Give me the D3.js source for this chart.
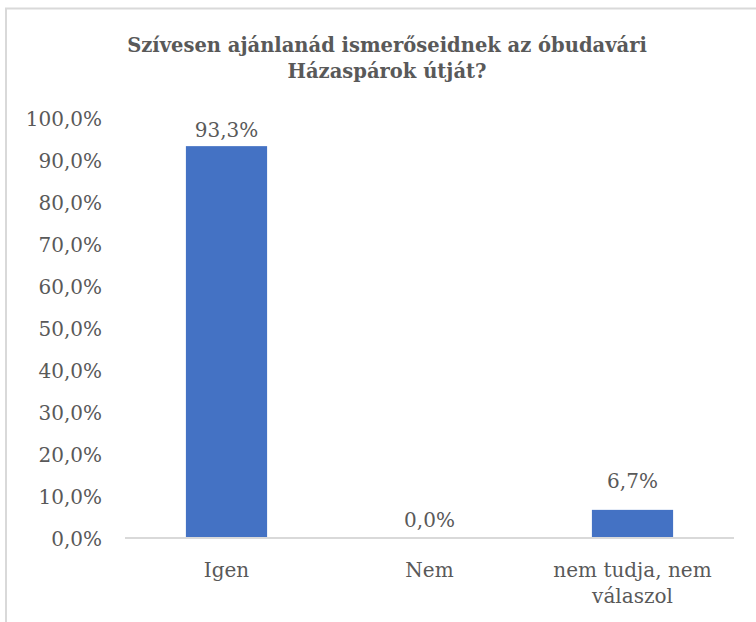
<!DOCTYPE html>
<html>
<head>
<meta charset="utf-8">
<script src="https://cdn.jsdelivr.net/npm/d3@7"></script>
<style>
  html, body { margin: 0; padding: 0; background: #fff; }
  svg { display: block; }
</style>
</head>
<body>
<div id="chart"></div>
<script>
// chart data
const titleLines = ["Szívesen ajánlanád ismerőseidnek az óbudavári", "Házaspárok útját?"];
const categories = ["Igen", "Nem", "nem tudja, nem válaszol"];
const values = [93.3, 0.0, 6.7];
const yTicks = [0, 10, 20, 30, 40, 50, 60, 70, 80, 90, 100];

const width = 756;
const height = 622;
const font = "'DejaVu Serif', 'Liberation Serif', serif";
const textColor = "#595959";
const fontSize = "20px";

const svg = d3.select("#chart")
  .append("svg")
  .attr("width", width)
  .attr("height", height);

// chart area border (runs off the right and bottom edge)
svg.append("rect")
  .attr("x", 6)
  .attr("y", 8.5)
  .attr("width", width + 20)
  .attr("height", height + 20)
  .attr("fill", "none")
  .attr("stroke", "#d9d9d9")
  .attr("stroke-width", 2);

// title
svg.append("text")
  .attr("x", 387)
  .attr("y", 52)
  .attr("text-anchor", "middle")
  .style("font-family", font)
  .style("font-size", "19.5px")
  .style("font-weight", "bold")
  .style("fill", textColor)
  .selectAll("tspan")
  .data(titleLines)
  .enter()
  .append("tspan")
  .attr("x", 387)
  .attr("dy", (d, i) => i === 0 ? 0 : 26)
  .text(d => d);

const x = d3.scaleBand()
  .domain(categories)
  .range([125, 734]);

const y = d3.scaleLinear()
  .domain([0, 100])
  .range([538, 118]);

const fmt = v => d3.format(".1f")(v).replace(".", ",") + "%";

// y axis labels (no line, no ticks)
const yAxis = svg.append("g")
  .attr("transform", "translate(102,0)")
  .call(d3.axisLeft(y).tickValues(yTicks).tickSize(0).tickPadding(0).tickFormat(fmt));
yAxis.select(".domain").remove();
yAxis.selectAll("text")
  .style("font-family", font)
  .style("font-size", fontSize)
  .style("fill", textColor)
  .attr("dy", "0.35em");

// bars
const barW = x.bandwidth() * 0.4;
svg.selectAll("rect.bar")
  .data(values)
  .enter()
  .append("rect")
  .attr("class", "bar")
  .attr("x", (d, i) => x(categories[i]) + (x.bandwidth() - barW) / 2)
  .attr("y", d => y(d))
  .attr("width", barW)
  .attr("height", d => y(0) - y(d))
  .attr("fill", "#4472c4");

// x axis line
svg.append("line")
  .attr("x1", x.range()[0])
  .attr("x2", x.range()[1])
  .attr("y1", y(0))
  .attr("y2", y(0))
  .attr("stroke", "#d9d9d9")
  .attr("stroke-width", 2);

// data labels (the small one sits a bit higher, as in the original)
const labelNudge = [0, 2, 13];
svg.selectAll("text.val")
  .data(values)
  .enter()
  .append("text")
  .attr("class", "val")
  .attr("x", (d, i) => x(categories[i]) + x.bandwidth() / 2)
  .attr("y", (d, i) => y(d) - 9 - labelNudge[i])
  .attr("text-anchor", "middle")
  .style("font-family", font)
  .style("font-size", fontSize)
  .style("fill", textColor)
  .text(fmt);

// category labels, wrapped to the band width
const catLabels = svg.selectAll("text.cat")
  .data(categories)
  .enter()
  .append("text")
  .attr("class", "cat")
  .attr("x", d => x(d) + x.bandwidth() / 2)
  .attr("y", y(0) + 39)
  .attr("text-anchor", "middle")
  .style("font-family", font)
  .style("font-size", fontSize)
  .style("fill", textColor);

catLabels.each(function (d) {
  const t = d3.select(this);
  const words = d.split(" ");
  const maxW = x.bandwidth() * 0.9;
  let line = [];
  let tspan = t.append("tspan").attr("x", t.attr("x")).attr("dy", 0);
  words.forEach(w => {
    line.push(w);
    tspan.text(line.join(" "));
    if (tspan.node().getComputedTextLength() > maxW && line.length > 1) {
      line.pop();
      tspan.text(line.join(" "));
      line = [w];
      tspan = t.append("tspan").attr("x", t.attr("x")).attr("dy", 26).text(w);
    }
  });
});
</script>
</body>
</html>
